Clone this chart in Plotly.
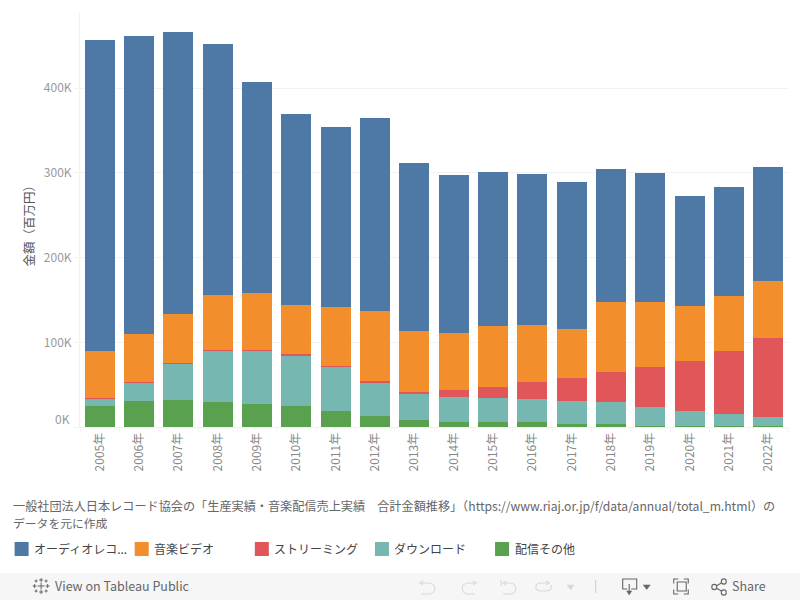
import re
import plotly.graph_objects as go

W, H = 800, 600
L, R, T, B = 80.35, 787.65, 12, 427

years = [f"{y}年" for y in range(2005, 2023)]
audio = [367.2,352,333,296.4,249.1,225.6,212.6,227.9,198.4,186.6,181.9,178.3,173.6,157.1,152.4,129.9,128.7,134.6]
video = [55.5,56.7,57.9,65,67.4,57.9,69.7,82.7,72.1,67.3,72.1,67.4,57.8,82.6,76.7,64.9,64.9,67.3]
stream = [1.2,1.1,1.2,1.1,1.1,1.2,1.1,1.2,2.3,8.3,12.9,20,27.2,35.5,47.3,59.1,74.4,93.3]
download = [8.3,21.3,42.5,60.3,62.6,60.2,52,40.1,30.7,29.5,28.4,27.2,27.2,26,22.4,17.7,14.2,10.6]
other = [24.8,30.7,31.9,29.5,27.2,24.8,18.9,13,8.3,5.9,5.9,5.9,3.5,3.5,1.2,1.2,1.2,1.2]

names = ["配信その他", "ダウンロード", "ストリーミング", "音楽ビデオ", "オーディオレコ..."]
colors = ["#59a14f", "#76b7b2", "#e15759", "#f28e2b", "#4e79a7"]
series = [other, download, stream, video, audio]

tick_vals = [0, 100, 200, 300, 400]
tick_text = ["", "100K", "200K", "300K", "400K"]

FONT = "Noto Sans CJK JP"
GRID = "#f2f2f2"
LIGHT = "#d8d8d8"
DARK = "#666666"
BAND = "#f6f6f6"


def px(x):
    return (x - L) / (R - L)


def py(y):
    return (B - y) / (B - T)


def conv(path):
    def rep(m):
        return f"{px(float(m.group(1))):.5f},{py(float(m.group(2))):.5f}"
    return re.sub(r"(-?[\d.]+),(-?[\d.]+)", rep, path)


fig = go.Figure()
for n, c, v in zip(names, colors, series):
    fig.add_bar(x=years, y=v, name=n, marker=dict(color=c, line_width=0), showlegend=False)

shapes = [dict(type="rect", xref="paper", yref="paper", x0=px(0), x1=px(800), y0=py(573), y1=py(600),
               fillcolor=BAND, line_width=0, layer="below")]


def icon(path, color=LIGHT, width=1.1, fill=None):
    shapes.append(dict(type="path", xref="paper", yref="paper", path=conv(path),
                       line=dict(color=color, width=width),
                       fillcolor=fill if fill else "rgba(0,0,0,0)"))


# undo
icon("M423,581 L420,583 L423,585")
icon("M421,583 L428,583 C437,583 437,594 428,594 L421,594")
# redo
icon("M473,581 L476,583 L473,585")
icon("M475,583 L469,583 C460,583 460,594 469,594 L475,594")
# revert
icon("M501,580 L501,586")
icon("M506,581 L503,583 L506,585")
icon("M504,583 L509,583 C518,583 518,594 509,594 L503,594")
# refresh
icon("M546,581 L549,583 L546,585")
icon("M549,583 L541,583 C534,583 534,591 541,591 L546,591 C551,591 552,588 551,585")
icon("M567,585 L574,585 L570.5,590 Z", LIGHT, 0.5, LIGHT)
# separator
icon("M595.5,580 L595.5,593", "#cccccc", 1)
# download
icon("M627,589 L622.5,589 L622.5,579 L636.5,579 L636.5,589 L631,589", DARK)
icon("M629,584 L629,593", DARK)
icon("M626.5,591 L629,595 L631.5,591 Z", DARK, 0.5, DARK)
icon("M643,585 L650,585 L646.5,589.5 Z", DARK, 0.5, DARK)
# fullscreen
icon("M677,582 L686,582 L686,591 L677,591 Z", DARK)
icon("M678,579 L673.5,579 L673.5,583.5", DARK)
icon("M683.5,579 L688,579 L688,583.5", DARK)
icon("M678,594 L673.5,594 L673.5,589.5", DARK)
icon("M683.5,594 L688,594 L688,589.5", DARK)
# share
icon("M714,587 L723,582 M714,587 L723,592", DARK)
icon("M711.5,587 C711.5,583.5 716.5,583.5 716.5,587 C716.5,590.5 711.5,590.5 711.5,587 Z", DARK, 1.1, BAND)
icon("M721,581.5 C721,578 726,578 726,581.5 C726,585 721,585 721,581.5 Z", DARK, 1.1, BAND)
icon("M721,592.5 C721,589 726,589 726,592.5 C726,596 721,596 721,592.5 Z", DARK, 1.1, BAND)
# tableau mark
for cx, cy, r in [(41.5, 586, 3.5), (41.5, 580, 2), (41.5, 592, 2), (35, 586, 2), (48, 586, 2),
                  (36.5, 581, 1.5), (46.5, 581, 1.5), (36.5, 591, 1.5), (46.5, 591, 1.5)]:
    icon(f"M{cx-r},{cy} L{cx+r},{cy} M{cx},{cy-r} L{cx},{cy+r}", DARK, 1)


def note(text, x, y, size=12, color="#666666", anchor="left", **kw):
    return dict(text=text, xref="paper", yref="paper", x=px(x), y=py(y), showarrow=False,
                xanchor=anchor, yanchor="middle", font=dict(family=FONT, size=size, color=color), **kw)


annotations = [
    note("一般社団法人日本レコード協会の「生産実績・音楽配信売上実績　合計金額推移」（https://www.riaj.or.jp/f/data/annual/total_m.html）の", 11, 505, size=12.15),
    note("データを元に作成", 11, 522, size=11.8),
    note("金額（百万円）", 29, 223, size=12.5, color="#555555", anchor="center", textangle=-90),
    note("0K", 72, 418, size=12, color="#999999", anchor="right"),
    note("View on Tableau Public", 53, 585.5, size=12.5, color="#666666"),
    note("Share", 730, 585.5, size=12.5, color="#666666"),
]

# legend row, blue first
for i, (n, c) in enumerate(zip(names[::-1], colors[::-1])):
    x0 = 15 + 120 * i
    shapes.append(dict(type="rect", xref="paper", yref="paper", x0=px(x0), x1=px(x0 + 14),
                       y0=py(542), y1=py(556), fillcolor=c, line_width=0))
    annotations.append(note(n, x0 + 17.5, 548.5, size=12, color="#444444"))

fig.update_layout(
    width=W, height=H, barmode="stack", bargap=0.236,
    margin=dict(l=L, r=W - R, t=T, b=H - B, autoexpand=False, pad=0),
    paper_bgcolor="white", plot_bgcolor="white",
    font=dict(family=FONT),
    xaxis=dict(type="category", range=[-0.5, 17.5], tickangle=-90, tickson="boundaries",
               ticks="outside", ticklen=4, tickcolor=GRID, showline=True, linecolor=GRID,
               showgrid=False, tickfont=dict(size=12, color="#888888"), ticklabelstandoff=0),
    yaxis=dict(range=[0, 490], tickvals=tick_vals, ticktext=tick_text, ticks="outside", ticklen=5,
               tickcolor=GRID, gridcolor=GRID, showline=True, linecolor=GRID, zeroline=False,
               tickfont=dict(size=12, color="#999999")),
    shapes=shapes, annotations=annotations, showlegend=False,
)

fig.write_html("out.html", config=dict(displayModeBar=False),
               post_script="document.body.style.margin='0';")
